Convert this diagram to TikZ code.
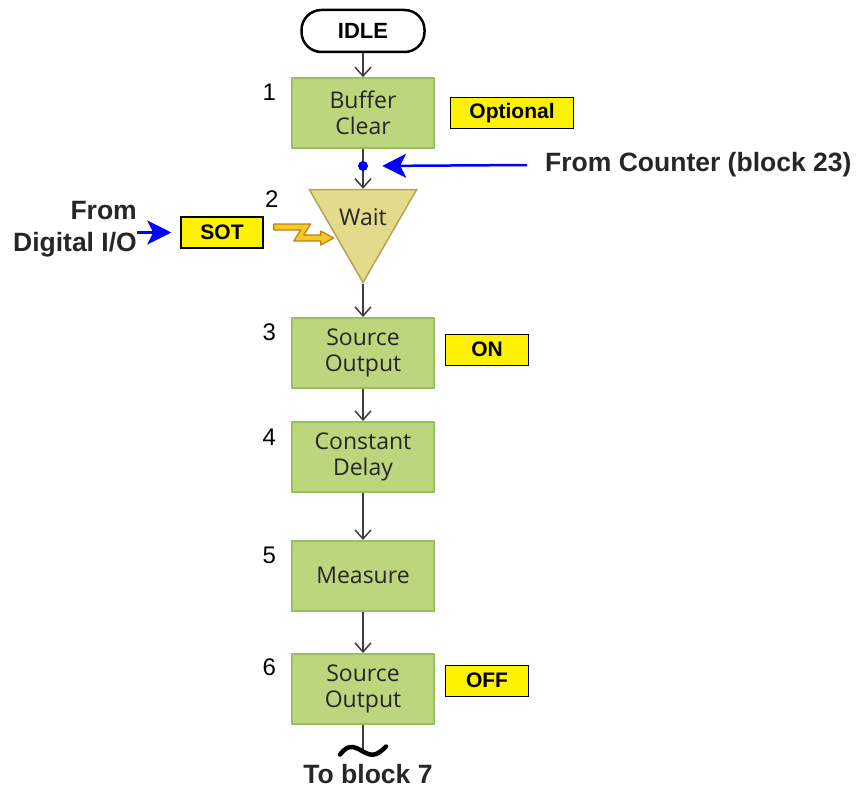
\documentclass[tikz,border=0pt]{standalone}
\usepackage{fontspec}
\setsansfont{Liberation Sans}
\newfontfamily\boxfont{Open Sans}
\usepackage{xcolor}
\definecolor{flowGreen}{RGB}{187,214,124}
\definecolor{flowGreenEdge}{RGB}{152,192,92}
\definecolor{waitKhaki}{RGB}{228,218,140}
\definecolor{waitEdge}{RGB}{178,166,82}
\definecolor{flowGray}{RGB}{62,62,62}
\definecolor{boltGold}{RGB}{246,200,40}
\definecolor{boltEdge}{RGB}{190,128,20}
\usetikzlibrary{positioning,shapes.geometric,arrows.meta,calc}
\tikzset{
  idlebox/.style={rectangle,draw=black,line width=2.5pt,rounded corners=20pt,
    minimum width=123pt,minimum height=42pt,inner sep=0pt,
    font=\sffamily\bfseries\fontsize{22}{22}\selectfont},
  stepbox/.style={rectangle,draw=flowGreenEdge,fill=flowGreen,line width=1.5pt,
    minimum width=142pt,minimum height=70pt,align=center,text=black!85,
    font=\boxfont\fontsize{23}{26}\selectfont},
  waitbox/.style={regular polygon,regular polygon sides=3,shape border rotate=180,
    draw=waitEdge,fill=waitKhaki,line width=1.5pt,minimum size=124pt,
    inner sep=0pt,text=black!85,font=\boxfont\fontsize{23}{26}\selectfont},
  tag/.style={rectangle,draw=black,fill=yellow,line width=1.5pt,
    minimum height=31pt,minimum width=#1,inner sep=0pt,
    font=\sffamily\bfseries\fontsize{21}{21}\selectfont},
  tag/.default=83pt,
  side/.style={inner sep=0pt,font=\sffamily\bfseries\fontsize{26.5}{32}\selectfont,
    text=black!85},
  num/.style={inner sep=0pt,font=\sffamily\fontsize{24}{24}\selectfont},
  bluedot/.style={circle,fill=blue,inner sep=0pt,minimum size=10pt},
  flow/.style={draw=flowGray,line width=2.5pt,
    -{Straight Barb[length=9pt,width=16pt,line width=1.5pt]}},
  flowline/.style={draw=flowGray,line width=2.5pt},
  bluearrow/.style={draw=blue,line width=2.5pt,
    -{Stealth[length=24pt,width=24pt,inset=6pt]}},
  bolt/.style={draw=boltEdge,fill=boltGold,line width=1.2pt,line join=round},
  wave/.style={draw=black,line width=4.5pt,line cap=round}
}
\begin{document}
\begin{tikzpicture}[x=1pt,y=-1pt]
  \useasboundingbox (0,0) rectangle (856,792);
  % main column
  \node[idlebox] (idle) at (363,31) {IDLE};
  \node[stepbox, below=24pt of idle] (b1) {Buffer\\Clear};
  \node[waitbox, below=40pt of b1] (wait)
    {\makebox[0pt]{\smash{\raisebox{-5pt}{Wait}}}};
  \node[stepbox, below=33pt of wait] (b3) {Source\\Output};
  \node[stepbox, below=32.5pt of b3] (b4) {Constant\\Delay};
  \node[stepbox, below=47.5pt of b4] (b5) {Measure};
  \node[stepbox, below=41.5pt of b5] (b6) {Source\\Output};
  % block numbers
  \node[num] (n1) at ([xshift=-22pt,yshift=-15pt]b1.north west) {1};
  \node[num] (n3) at ([xshift=-22pt,yshift=-15pt]b3.north west) {3};
  \node[num] (n4) at ([xshift=-22pt,yshift=-16pt]b4.north west) {4};
  \node[num] (n5) at ([xshift=-22pt,yshift=-15pt]b5.north west) {5};
  \node[num] (n6) at ([xshift=-22pt,yshift=-14pt]b6.north west) {6};
  % tags
  \node[tag=123pt, right=15pt of b1] (opt) {Optional};
  \node[tag, right=10pt of b3, yshift=3pt] (on) {ON};
  \node[tag, right=10pt of b6, yshift=8pt] (off) {OFF};
  \node[tag=82pt] (sot) at (222,232.5) {SOT};
  \node[num] (n2) at ([xshift=8pt,yshift=17pt]sot.north east) {2};
  % outside inputs
  \node[side, align=right, anchor=east] (dio) at (137,229) {From\\Digital I/O};
  \node[side, anchor=west] (cnt) at (545,165) {From Counter (block 23)};
  % connectors
  \draw[flow] (idle) -- (b1);
  \draw[flow] (b1) -- (wait);
  \node[bluedot] (dot) at ($(b1.south)!0.43!(wait.north)$) {};
  \draw[flow] (wait) -- (b3);
  \draw[flow] (b3) -- (b4);
  \draw[flow] (b4) -- (b5);
  \draw[flow] (b5) -- (b6);
  \draw[bluearrow] ([xshift=-18pt]cnt.west) -- ([xshift=14pt]dot.east);
  \draw[bluearrow] (dio.east |- sot.west) -- ([xshift=-9pt]sot.west);
  \draw[bolt] ($(sot.east)+(10,-8.5)$) -- ++(37,0) -- ++(-7,11) -- ++(17,0)
    -- ++(0,-4) -- ++(13,7) -- ++(-13,7) -- ++(0,-4) -- ++(-27,0)
    -- ++(7,-11) -- ++(-27,0) -- cycle;
  % break to next block
  \coordinate (brk) at ($(b6.south)+(0,27)$);
  \draw[flowline] (b6) -- (brk);
  \draw[wave] ($(brk)+(-23,3)$) .. controls +(8,-10) and +(-10,-6) .. (brk)
    .. controls +(10,6) and +(-8,8) .. ++(23,-5);
  \node[side, anchor=base] (to7) at ($(brk)+(5,32)$) {To block 7};
\end{tikzpicture}
\end{document}
